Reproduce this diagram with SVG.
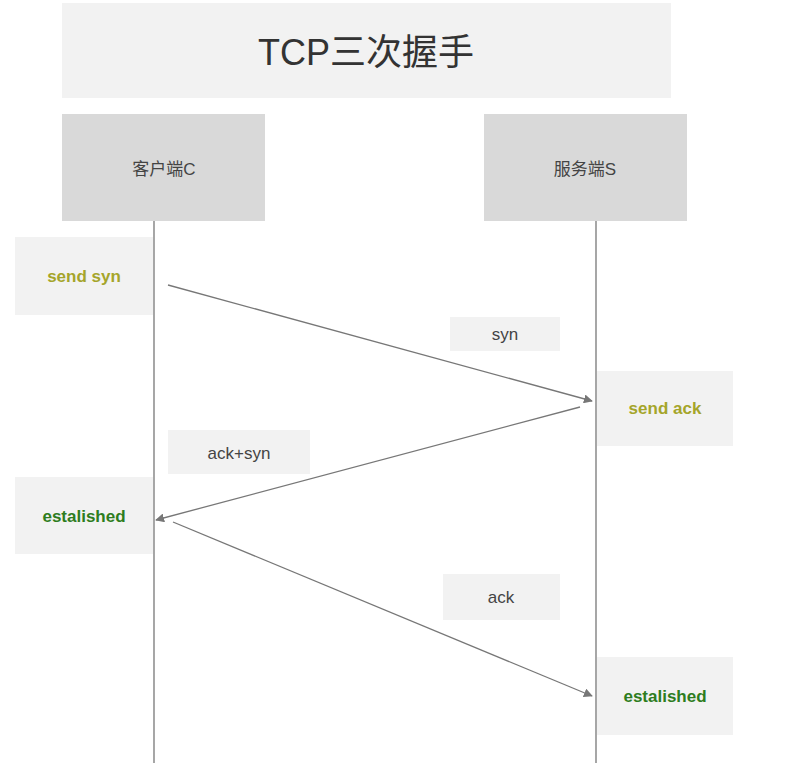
<svg xmlns="http://www.w3.org/2000/svg" width="795" height="763" viewBox="0 0 795 763">
<style>
.lt{fill:#f2f2f2}.hd{fill:#d9d9d9}
.t{font-family:"Liberation Sans","Noto Sans CJK SC",sans-serif;text-anchor:middle;dominant-baseline:central}
.lbl{font-size:17px;fill:#444}
.y{font-size:17px;font-weight:bold;fill:#a5a52a}
.g{font-size:17px;font-weight:bold;fill:#2e7d1e}
.ln{stroke:#777;stroke-width:1.3;fill:none}
</style>
<defs><marker id="a" viewBox="0 0 10 10" refX="9" refY="5" markerWidth="9" markerHeight="9" orient="auto" markerUnits="userSpaceOnUse"><path d="M0,0L10,5L0,10z" fill="#777"/></marker></defs>
<rect width="795" height="763" fill="#fff"/>
<g id="title"><rect class="lt" x="62" y="3" width="609" height="95"/><text class="t" x="366" y="52" font-size="36" fill="#333">TCP三次握手</text></g>
<g id="client"><rect class="hd" x="62" y="114" width="203" height="107"/><text class="t lbl" x="164" y="169">客户端C</text></g>
<g id="server"><rect class="hd" x="484" y="114" width="203" height="107"/><text class="t lbl" x="585" y="169">服务端S</text></g>
<g id="lifelines"><line class="ln" x1="154" y1="221" x2="154" y2="763"/><line class="ln" x1="596" y1="221" x2="596" y2="763"/></g>
<g id="sendsyn"><rect class="lt" x="15" y="237" width="138" height="78"/><text class="t y" x="84" y="276">send syn</text></g>
<g id="syn"><rect class="lt" x="450" y="317" width="110" height="34"/><text class="t lbl" x="505" y="334">syn</text></g>
<g id="sendack"><rect class="lt" x="597" y="371" width="136" height="75"/><text class="t y" x="665" y="408">send ack</text></g>
<g id="acksyn"><rect class="lt" x="168" y="430" width="142" height="44"/><text class="t lbl" x="239" y="453">ack+syn</text></g>
<g id="est1"><rect class="lt" x="15" y="477" width="138" height="77"/><text class="t g" x="84" y="516">estalished</text></g>
<g id="ack"><rect class="lt" x="443" y="574" width="117" height="46"/><text class="t lbl" x="501" y="597">ack</text></g>
<g id="est2"><rect class="lt" x="597" y="657" width="136" height="78"/><text class="t g" x="665" y="696">estalished</text></g>
<g id="connectors">
<line class="ln" x1="168" y1="285" x2="592" y2="401" marker-end="url(#a)"/>
<line class="ln" x1="580" y1="407" x2="156" y2="520" marker-end="url(#a)"/>
<line class="ln" x1="173" y1="522" x2="592" y2="696" marker-end="url(#a)"/>
</g>
</svg>
